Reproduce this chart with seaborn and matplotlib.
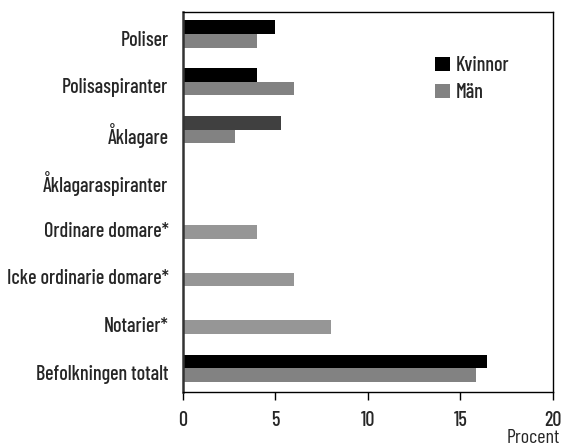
import matplotlib
matplotlib.use('Agg')

import matplotlib.pyplot as plt
import matplotlib.transforms as mtransforms
import pandas as pd
import seaborn as sns


# ---------------------------------------------------
# Data
# ---------------------------------------------------

categories = [
    'Poliser',
    'Polisaspiranter',
    'Åklagare',
    'Åklagaraspiranter',
    'Ordinare domare*',
    'Icke ordinarie domare*',
    'Notarier*',
    'Befolkningen totalt',
]

kvinnor = [5.0, 4.0, 5.3, None, None, None, None, 16.45]
man = [4.0, 6.0, 2.8, None, 4.0, 6.0, 8.0, 15.85]

rows = []
for cat, k, m in zip(categories, kvinnor, man):
    if k is not None:
        rows.append({'Kategori': cat, 'Kön': 'Kvinnor', 'Procent': k})
    if m is not None:
        rows.append({'Kategori': cat, 'Kön': 'Män', 'Procent': m})
df = pd.DataFrame(rows)


# ---------------------------------------------------
# Plot
# ---------------------------------------------------

sns.set_style('white')
plt.rcParams['font.family'] = ['Barlow Condensed', 'DejaVu Sans']
plt.rcParams['font.weight'] = 500

FS = 14.5

fig = plt.figure(figsize=(5.63, 4.48), dpi=100)
ax = fig.add_axes([0.325, 0.125, 0.657, 0.848])

sns.barplot(
    data=df,
    y='Kategori',
    x='Procent',
    hue='Kön',
    order=categories,
    hue_order=['Kvinnor', 'Män'],
    palette={'Kvinnor': '#000000', 'Män': '#828282'},
    width=0.57,
    saturation=1,
    errorbar=None,
    ax=ax,
)

# single-series bars a shade lighter, Åklagare women dark grey
for bar in ax.patches:
    yc = bar.get_y() + bar.get_height() / 2
    idx = int(round(yc))
    if idx >= len(categories):
        continue
    cat = categories[idx]
    if cat == 'Åklagare' and yc < idx:
        bar.set_facecolor('#404040')
    if cat in ('Ordinare domare*', 'Icke ordinarie domare*', 'Notarier*'):
        bar.set_facecolor('#969696')
    bar.set_edgecolor('none')

ax.set_xlim(0, 20)
ax.set_ylim(7.5, -0.46)
ax.set_xticks([0, 5, 10, 15, 20])
ax.set_ylabel('')
ax.set_xlabel('Procent', fontsize=FS, ha='right', va='top')
ax.xaxis.set_label_coords(1.02, -0.098)

ax.tick_params(axis='x', which='both', bottom=True, direction='out',
               length=6, width=1, color='black', labelsize=FS, pad=8)
ax.tick_params(axis='y', left=False, labelsize=FS, pad=7)

# labels sit a little below the bar pair centre
offset = mtransforms.ScaledTranslation(0, -3 / 72, fig.dpi_scale_trans)
for lab in ax.get_yticklabels():
    lab.set_transform(lab.get_transform() + offset)

for side, sp in ax.spines.items():
    sp.set_visible(True)
    sp.set_color('black')
    sp.set_linewidth(1.0)
ax.spines['left'].set_linewidth(1.8)
ax.spines['left'].set_color('#333333')

ax.legend(
    loc='upper left',
    bbox_to_anchor=(0.632, 0.932),
    frameon=False,
    fontsize=FS,
    handlelength=0.75,
    handleheight=0.75,
    handletextpad=0.3,
    labelspacing=0.4,
)

plt.savefig('out.png', dpi=100)
plt.close()
